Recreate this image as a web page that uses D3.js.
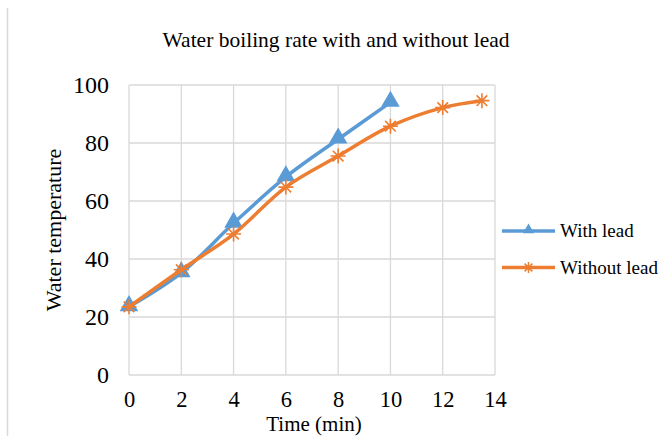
<html>
<head>
<script src="https://d3js.org/d3.v7.min.js"></script>
<style>
    body { margin: 0; background: white; }
    text { font-family: "Liberation Serif", "Times New Roman", serif; fill: #000; }
</style>
</head>
<body>
<svg id="chart" width="658" height="436"></svg>
<script>
    // data
    let withTime = [0, 2, 4, 6, 8, 10]
    let withTemp = [23.5, 35.2, 52.3, 68.3, 81.3, 94]
    let withoutTime = [0, 2, 4, 6, 8, 10, 12, 13.5]
    let withoutTemp = [23.5, 36.3, 48.6, 64.8, 75.5, 85.8, 92.2, 94.6]
    let xTicks = [0, 2, 4, 6, 8, 10, 12, 14]
    let yTicks = [0, 20, 40, 60, 80, 100]

    let svg = d3.select("#chart")
    let blue = "#5b9bd5", orange = "#ed7d31", grid = "#d9d9d9"

    let x = d3.scaleLinear().domain([0, 14]).range([129, 495])
    let y = d3.scaleLinear().domain([0, 100]).range([375, 85])

    // left border remnant
    svg.append("line").attr("x1", 7.5).attr("x2", 7.5).attr("y1", 8).attr("y2", 436)
        .attr("stroke", grid).attr("stroke-width", 1.5)

    svg.append("text").attr("x", 336).attr("y", 47).attr("text-anchor", "middle")
        .style("font-size", "21.5px").text("Water boiling rate with and without lead")

    // grid
    svg.append("g").selectAll("line").data(yTicks).enter().append("line")
        .attr("x1", x(0)).attr("x2", x(14)).attr("y1", d => y(d)).attr("y2", d => y(d))
        .attr("stroke", grid).attr("stroke-width", 1.3)
    svg.append("g").selectAll("line").data(xTicks).enter().append("line")
        .attr("y1", y(0)).attr("y2", y(100)).attr("x1", d => x(d)).attr("x2", d => x(d))
        .attr("stroke", grid).attr("stroke-width", 1.3)

    // axes via d3 axis, lines hidden
    let xAxis = svg.append("g").attr("transform", `translate(0,${y(0) + 13})`)
        .call(d3.axisBottom(x).tickValues(xTicks).tickSize(0))
    let yAxis = svg.append("g").attr("transform", `translate(${x(0) - 20},0)`)
        .call(d3.axisLeft(y).tickValues(yTicks).tickSize(0).tickPadding(0))
    xAxis.selectAll("text").style("font-size", "22.5px")
    yAxis.selectAll("text").style("font-size", "24px").attr("dy", "0.33em")
    for (let a of [xAxis, yAxis]) {
        a.select(".domain").remove()
        a.selectAll("text").style("font-family", "Liberation Serif")
    }

    svg.append("text").attr("x", 314).attr("y", 431).attr("text-anchor", "middle")
        .style("font-size", "21px").text("Time (min)")
    svg.append("text").attr("transform", "translate(61,230) rotate(-90)").attr("text-anchor", "middle")
        .style("font-size", "22px").text("Water temperature")

    let line = d3.line().x(d => x(d[0])).y(d => y(d[1])).curve(d3.curveCatmullRom.alpha(0.5))

    let withData = withTime.map((t, i) => [t, withTemp[i]])
    let withoutData = withoutTime.map((t, i) => [t, withoutTemp[i]])

    let tri = d3.symbol().type(d3.symbolTriangle).size(150)

    function asterisk(cx, cy, r) {
        let p = ""
        for (let k = 0; k < 4; k++) {
            let a = k * Math.PI / 4
            p += `M${cx - r * Math.cos(a)},${cy - r * Math.sin(a)}L${cx + r * Math.cos(a)},${cy + r * Math.sin(a)}`
        }
        return p
    }

    svg.append("path").datum(withData).attr("d", line).attr("fill", "none")
        .attr("stroke", blue).attr("stroke-width", 3.5)
    svg.append("g").selectAll("path").data(withData).enter().append("path")
        .attr("d", tri).attr("transform", d => `translate(${x(d[0])},${y(d[1]) - 1})`)
        .attr("fill", blue)

    svg.append("path").datum(withoutData).attr("d", line).attr("fill", "none")
        .attr("stroke", orange).attr("stroke-width", 3.5)
    svg.append("g").selectAll("path").data(withoutData).enter().append("path")
        .attr("d", d => asterisk(x(d[0]), y(d[1]), 7.5))
        .attr("stroke", orange).attr("stroke-width", 1.6).attr("fill", "none")

    // legend
    let legend = [
        { name: "With lead", color: blue, mark: "tri" },
        { name: "Without lead", color: orange, mark: "star" }
    ]
    let lg = svg.append("g").selectAll("g").data(legend).enter().append("g")
        .attr("transform", (d, i) => `translate(502,${231 + i * 36.5})`)
    lg.append("line").attr("x1", 0).attr("x2", 53).attr("stroke", d => d.color).attr("stroke-width", 3.5)
    lg.filter(d => d.mark == "tri").append("path")
        .attr("d", d3.symbol().type(d3.symbolTriangle).size(55)())
        .attr("transform", "translate(26.5,-1)").attr("fill", d => d.color)
    lg.filter(d => d.mark != "tri").append("path")
        .attr("d", asterisk(26.5, 0, 5.5)).attr("fill", "none")
        .attr("stroke", d => d.color).attr("stroke-width", 1.5)
    lg.append("text").attr("x", 58).attr("dy", "0.33em").style("font-size", "19px").text(d => d.name)
</script>
</body>
</html>
